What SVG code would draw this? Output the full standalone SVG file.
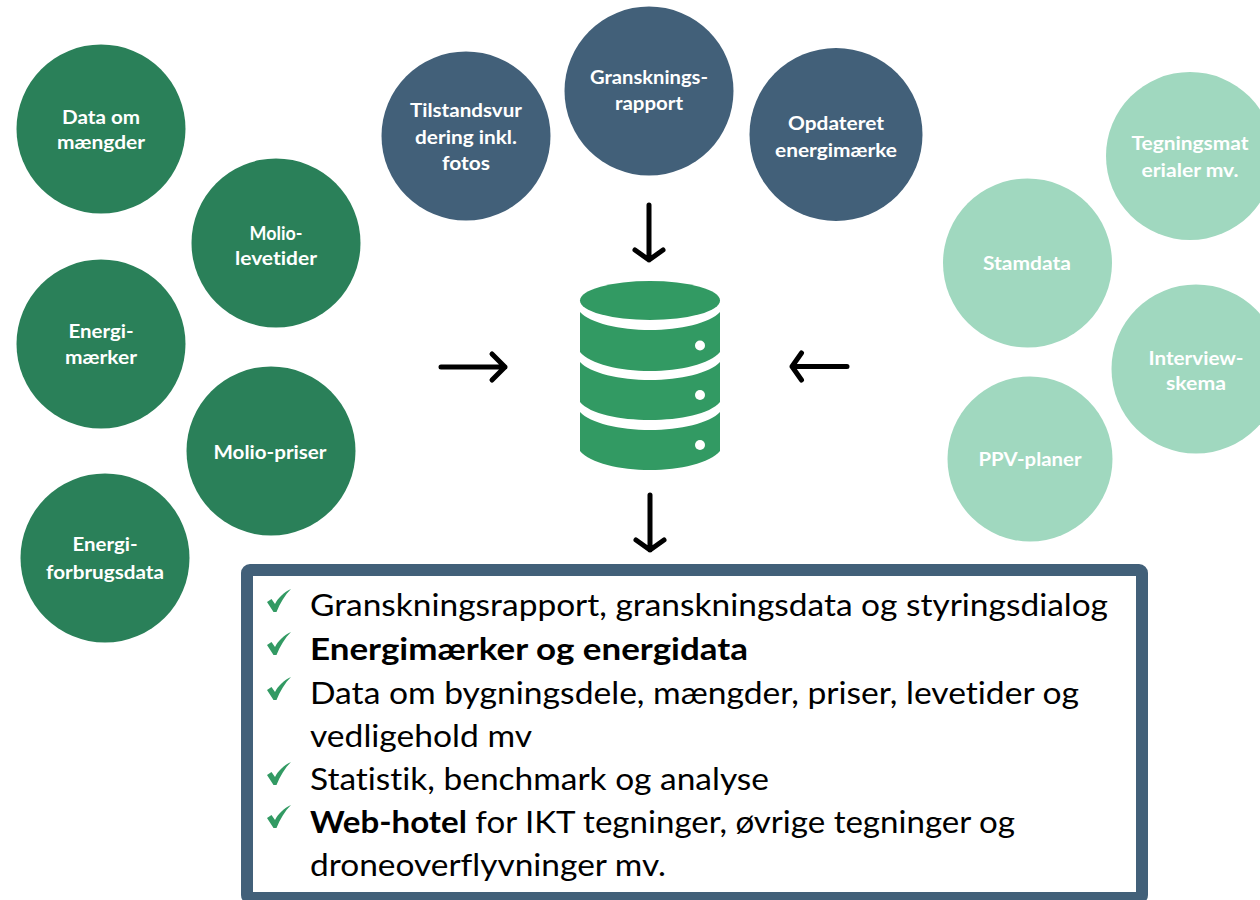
<svg xmlns="http://www.w3.org/2000/svg" width="1260" height="900" viewBox="0 0 1260 900">
<style>
text{font-family:Lato,"Open Sans","Liberation Sans",sans-serif;font-variant-ligatures:none}
.l{font-size:18px;font-weight:700;fill:#fff;text-anchor:middle}
.b{font-size:30px;fill:#000}
.s{font-weight:700}
.dg{fill:#2a8059}.bl{fill:#426079}.lg{fill:#a0d8bf}
.a{fill:none;stroke:#000;stroke-width:5;stroke-linecap:round;stroke-linejoin:round}
</style>
<defs>
<path id="chk" d="M0 13 L4.500 10 L8 15 C11 9 17 3 24 0 C18 6 13 14 9.500 23 L6.500 23 Z" fill="#329a63"/>
</defs>
<g id="n1"><circle class="dg" cx="101" cy="129" r="84.500"/><text class="l" x="101" y="124" textLength="78" lengthAdjust="spacingAndGlyphs">Data om</text><text class="l" x="101" y="149" textLength="88" lengthAdjust="spacingAndGlyphs">mængder</text></g>
<g id="n2"><circle class="dg" cx="276" cy="243" r="84.500"/><text class="l" x="276" y="240" textLength="53" lengthAdjust="spacingAndGlyphs">Molio-</text><text class="l" x="276" y="265" textLength="82" lengthAdjust="spacingAndGlyphs">levetider</text></g>
<g id="n3"><circle class="dg" cx="101" cy="344" r="84.500"/><text class="l" x="101" y="338" textLength="65" lengthAdjust="spacingAndGlyphs">Energi-</text><text class="l" x="101" y="364" textLength="72" lengthAdjust="spacingAndGlyphs">mærker</text></g>
<g id="n4"><circle class="dg" cx="271" cy="451" r="84.500"/><text class="l" x="270" y="459" textLength="113" lengthAdjust="spacingAndGlyphs">Molio-priser</text></g>
<g id="n5"><circle class="dg" cx="105" cy="558" r="84.500"/><text class="l" x="105" y="551" textLength="65" lengthAdjust="spacingAndGlyphs">Energi-</text><text class="l" x="105" y="579" textLength="118" lengthAdjust="spacingAndGlyphs">forbrugsdata</text></g>
<g id="n6"><circle class="bl" cx="466" cy="136" r="84.500"/><text class="l" x="466" y="117" textLength="112" lengthAdjust="spacingAndGlyphs">Tilstandsvur</text><text class="l" x="466" y="144" textLength="102" lengthAdjust="spacingAndGlyphs">dering inkl.</text><text class="l" x="466" y="170" textLength="48" lengthAdjust="spacingAndGlyphs">fotos</text></g>
<g id="n7"><circle class="bl" cx="649" cy="91" r="84.500"/><text class="l" x="649" y="84" textLength="118" lengthAdjust="spacingAndGlyphs">Gransknings-</text><text class="l" x="649" y="110" textLength="68" lengthAdjust="spacingAndGlyphs">rapport</text></g>
<g id="n8"><circle class="bl" cx="836" cy="134.500" r="86.500"/><text class="l" x="836" y="130" textLength="96" lengthAdjust="spacingAndGlyphs">Opdateret</text><text class="l" x="836" y="157" textLength="122" lengthAdjust="spacingAndGlyphs">energimærke</text></g>
<g id="n9"><circle class="lg" cx="1190" cy="156" r="84"/><text class="l" x="1190" y="150" textLength="117" lengthAdjust="spacingAndGlyphs">Tegningsmat</text><text class="l" x="1190" y="177" textLength="97" lengthAdjust="spacingAndGlyphs">erialer mv.</text></g>
<g id="n10"><circle class="lg" cx="1027.500" cy="263" r="84.500"/><text class="l" x="1027" y="270" textLength="88" lengthAdjust="spacingAndGlyphs">Stamdata</text></g>
<g id="n11"><circle class="lg" cx="1196" cy="369" r="84.500"/><text class="l" x="1196" y="365" textLength="95" lengthAdjust="spacingAndGlyphs">Interview-</text><text class="l" x="1196" y="390" textLength="60" lengthAdjust="spacingAndGlyphs">skema</text></g>
<g id="n12"><circle class="lg" cx="1030" cy="459" r="82.500"/><text class="l" x="1030" y="466" textLength="103" lengthAdjust="spacingAndGlyphs">PPV-planer</text></g>
<g id="database" fill="#329a63">
<ellipse cx="650" cy="300.500" rx="70" ry="19.500"/>
<path d="M580 312 C590 323 620 330 650 330 C680 330 710 323 720 312 V352 C710 364 680 371 650 371 C620 371 590 364 580 352 Z"/>
<path d="M580 362 C590 373 620 380 650 380 C680 380 710 373 720 362 V402 C710 414 680 420 650 420 C620 420 590 414 580 402 Z"/>
<path d="M580 412 C590 423 620 430 650 430 C680 430 710 423 720 412 V451 C710 463 680 470 650 470 C620 470 590 463 580 451 Z"/>
<g fill="#fff"><circle cx="700" cy="345.500" r="5"/><circle cx="700" cy="395" r="5"/><circle cx="700" cy="445" r="5"/></g>
</g>
<g id="connectors">
<path class="a" d="M649 205V260M635 250L649 260L663 250"/>
<path class="a" d="M441 367H505M492 354L505 367L492 380"/>
<path class="a" d="M847 366.500H792M801.500 353L792 366.500L801.500 380"/>
<path class="a" d="M650 495V550M636 540L650 550L664 540"/>
</g>
<g id="box">
<rect x="247" y="570" width="895" height="328" rx="3" fill="#fff" stroke="#426079" stroke-width="12"/>
<use href="#chk" x="267" y="589"/><use href="#chk" x="267" y="632"/><use href="#chk" x="267" y="677"/><use href="#chk" x="267" y="762"/><use href="#chk" x="267" y="805"/>
<text class="b" x="310" y="616" textLength="798" lengthAdjust="spacingAndGlyphs">Granskningsrapport, granskningsdata og styringsdialog</text>
<text class="b s" x="310" y="660" textLength="438" lengthAdjust="spacingAndGlyphs">Energimærker og energidata</text>
<text class="b" x="310" y="704" textLength="769" lengthAdjust="spacingAndGlyphs">Data om bygningsdele, mængder, priser, levetider og</text>
<text class="b" x="310" y="747" textLength="222" lengthAdjust="spacingAndGlyphs">vedligehold mv</text>
<text class="b" x="310" y="790" textLength="459" lengthAdjust="spacingAndGlyphs">Statistik, benchmark og analyse</text>
<text class="b" x="310" y="833" textLength="705" lengthAdjust="spacingAndGlyphs"><tspan class="s">Web-hotel</tspan> for IKT tegninger, øvrige tegninger og</text>
<text class="b" x="310" y="876" textLength="356" lengthAdjust="spacingAndGlyphs">droneoverflyvninger mv.</text>
</g>
</svg>
